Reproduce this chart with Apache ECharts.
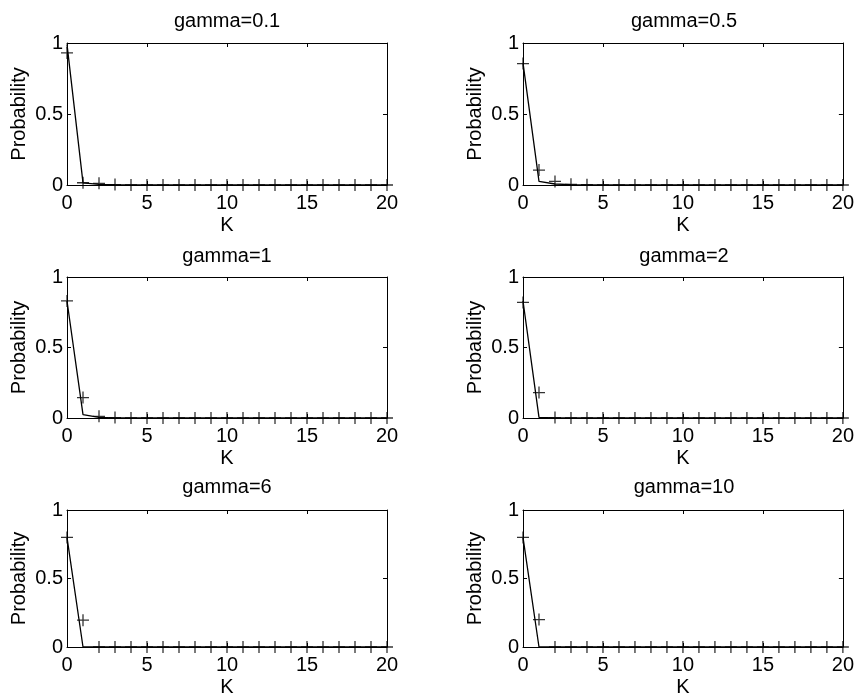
<!DOCTYPE html>
<html>
<head>
<meta charset="utf-8">
<script src="https://cdn.jsdelivr.net/npm/echarts@6/dist/echarts.min.js"></script>
<style>
html,body{margin:0;padding:0;background:#fff;}
#main{width:857px;height:698px;}
</style>
</head>
<body>
<div id="main"></div>
<script>
// K values (0..20)
var kValues = [0,1,2,3,4,5,6,7,8,9,10,11,12,13,14,15,16,17,18,19,20];
var titles = ['gamma=0.1','gamma=0.5','gamma=1','gamma=2','gamma=6','gamma=10'];
var xTicks = [0,5,10,15,20];
var yTicks = [0,0.5,1];

// '+' markers (simulated)
var sim01 = [0.93,0.016,0.012,0.003,0,0,0,0,0,0,0,0,0,0,0,0,0,0,0,0,0];
var sim05 = [0.855,0.105,0.025,0.005,0.002,0,0,0,0,0,0,0,0,0,0,0,0,0,0,0,0];
var sim1  = [0.83,0.145,0.012,0.003,0,0,0,0,0,0,0,0,0,0,0,0,0,0,0,0,0];
var sim2  = [0.82,0.18,0.003,0,0,0,0,0,0,0,0,0,0,0,0,0,0,0,0,0,0];
var sim6  = [0.80,0.196,0,0,0,0,0,0,0,0,0,0,0,0,0,0,0,0,0,0,0];
var sim10 = [0.80,0.20,0,0,0,0,0,0,0,0,0,0,0,0,0,0,0,0,0,0,0];

// solid line (theory)
var th01 = [0.99,0.015,0.005,0.002,0,0,0,0,0,0,0,0,0,0,0,0,0,0,0,0,0];
var th05 = [0.86,0.025,0.007,0.002,0,0,0,0,0,0,0,0,0,0,0,0,0,0,0,0,0];
var th1  = [0.83,0.024,0.005,0.001,0,0,0,0,0,0,0,0,0,0,0,0,0,0,0,0,0];
var th2  = [0.83,0.005,0.001,0,0,0,0,0,0,0,0,0,0,0,0,0,0,0,0,0,0];
var th6  = [0.80,0,0,0,0,0,0,0,0,0,0,0,0,0,0,0,0,0,0,0,0];
var th10 = [0.80,0,0,0,0,0,0,0,0,0,0,0,0,0,0,0,0,0,0,0,0];

var simAll = [sim01,sim05,sim1,sim2,sim6,sim10];
var thAll = [th01,th05,th1,th2,th6,th10];

var FONT = '"Liberation Sans", Arial, Helvetica, sans-serif';
var FS = 20;
var colLeft = [67, 523], colWidth = [320, 322];
var rowTop = [43, 277, 510], rowHeight = [142, 141, 141];
var titleTop = [11, 246, 477];

function pairs(vals){
	return kValues.map(function(k, j){ return [k, vals[j]]; });
}

var grids = [], xAxes = [], yAxes = [], series = [], titleList = [];
for (var i = 0; i < 6; i++) {
	var r = Math.floor(i / 2), c = i % 2;
	grids.push({left: colLeft[c], top: rowTop[r], width: colWidth[c], height: rowHeight[r]});
	titleList.push({
		text: titles[i], left: colLeft[c] + colWidth[c] / 2, top: titleTop[r],
		textAlign: 'center', padding: 0,
		textStyle: {fontFamily: FONT, fontSize: FS, fontWeight: 'normal', color: '#000'}
	});
	// bottom / left axes with labels
	xAxes.push({
		gridIndex: i, type: 'value', min: 0, max: 20, interval: 5, position: 'bottom',
		name: 'K', nameLocation: 'middle', nameGap: 30,
		nameTextStyle: {fontFamily: FONT, fontSize: FS, color: '#000'},
		axisLine: {onZero: false, lineStyle: {color: '#000', width: 1}},
		axisTick: {inside: true, length: 4, lineStyle: {color: '#000'}},
		axisLabel: {fontFamily: FONT, fontSize: FS, color: '#000', margin: 8},
		splitLine: {show: false}
	});
	yAxes.push({
		gridIndex: i, type: 'value', min: 0, max: 1, interval: 0.5, position: 'left',
		name: 'Probability', nameLocation: 'middle', nameGap: 38, nameRotate: 90,
		nameTextStyle: {fontFamily: FONT, fontSize: FS, color: '#000'},
		axisLine: {show: true, onZero: false, lineStyle: {color: '#000', width: 1}},
		axisTick: {show: true, inside: true, length: 4, lineStyle: {color: '#000'}},
		axisLabel: {fontFamily: FONT, fontSize: FS, color: '#000', margin: 4},
		splitLine: {show: false}
	});
	// top / right box edges
	xAxes.push({
		gridIndex: i, type: 'value', min: 0, max: 20, interval: 5, position: 'top',
		axisLine: {onZero: false, lineStyle: {color: '#000', width: 1}},
		axisTick: {inside: true, length: 4, lineStyle: {color: '#000'}},
		axisLabel: {show: false}, splitLine: {show: false}
	});
	yAxes.push({
		gridIndex: i, type: 'value', min: 0, max: 1, interval: 0.5, position: 'right',
		axisLine: {show: true, onZero: false, lineStyle: {color: '#000', width: 1}},
		axisTick: {show: true, inside: true, length: 4, lineStyle: {color: '#000'}},
		axisLabel: {show: false}, splitLine: {show: false}
	});
	series.push({
		type: 'line', xAxisIndex: 2 * i, yAxisIndex: 2 * i,
		data: pairs(thAll[i]), showSymbol: false, clip: false,
		lineStyle: {color: '#000', width: 1.3}, z: 3
	});
	series.push({
		type: 'scatter', xAxisIndex: 2 * i, yAxisIndex: 2 * i,
		data: pairs(simAll[i]), clip: false,
		symbol: 'path://M0,5L10,5M5,0L5,10', symbolSize: 12,
		itemStyle: {color: 'none', borderColor: '#000', borderWidth: 1.3}, z: 4
	});
}

var chart = echarts.init(document.getElementById('main'));
chart.setOption({
	backgroundColor: '#fff',
	animation: false,
	title: titleList,
	grid: grids,
	xAxis: xAxes,
	yAxis: yAxes,
	series: series
});
</script>
</body>
</html>
